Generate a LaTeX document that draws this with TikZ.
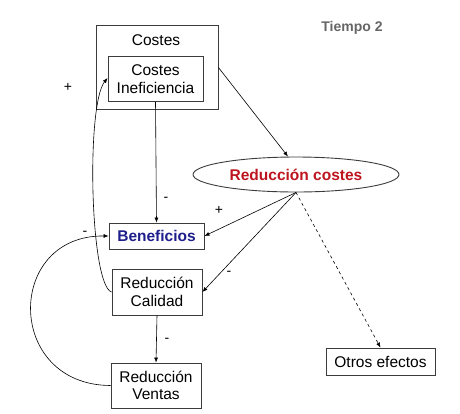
\documentclass[tikz,border=0pt]{standalone}
\usepackage{fontspec}
\setmainfont{Liberation Sans}
\usetikzlibrary{arrows.meta,shapes.geometric}
\definecolor{benefblue}{RGB}{30,30,140}
\definecolor{redcost}{RGB}{190,20,30}
\definecolor{boxgray}{RGB}{60,60,60}
\begin{document}
\begin{tikzpicture}[x=1pt,y=-1pt,
  box/.style={draw=boxgray,line width=0.9pt,rectangle,inner sep=0pt,align=center,font=\fontsize{15.5}{17.5}\selectfont},
  conn/.style={-{Latex[length=5pt,width=4pt]},line width=0.6pt},
  sign/.style={font=\fontsize{14}{16}\selectfont,inner sep=0pt}]
\useasboundingbox (0,0) rectangle (460,413);
\fill[white] (0,0) rectangle (460,413);
\node[box,minimum width=122pt,minimum height=84pt] (outer) at (157,67.5) {};
\node[font=\fontsize{15.5}{17.5}\selectfont,inner sep=0pt] (costesT) at (156,40) {Costes};
\node[box,minimum width=95pt,minimum height=45pt] (inner) at (155.5,79) {Costes\\Ineficiencia};
\node[box,minimum width=95pt,minimum height=26pt,text=benefblue,font=\fontsize{15.5}{17.5}\selectfont\bfseries] (benef) at (156.5,236) {Beneficios};
\node[box,minimum width=90pt,minimum height=46pt] (cal) at (157,292) {Reducción\\Calidad};
\node[box,minimum width=90pt,minimum height=45pt] (ventas) at (156,385.5) {Reducción\\Ventas};
\node[box,minimum width=109pt,minimum height=27pt] (otros) at (380.5,361.5) {Otros efectos};
\node[draw=boxgray,line width=0.9pt,ellipse,minimum width=206pt,minimum height=35pt,inner sep=0pt,text=redcost,font=\fontsize{15.5}{17.5}\selectfont\bfseries] (ell) at (296,174.5) {Reducción costes};
\node[text=black!60,font=\fontsize{14}{16}\selectfont\bfseries,inner sep=0pt] (tiempo) at (352,28) {Tiempo 2};
% connectors
\draw[conn] (outer.east) -- ([xshift=-8pt]ell.north);
\draw[conn] (ell.south) -- (benef.east);
\draw[conn] (ell.south) -- (cal.east);
\draw[conn,dashed] (ell.south) -- (otros.north);
\draw[conn] (inner.south) -- (benef.north);
\draw[conn] (cal.south) -- (ventas.north);
\draw[conn] (cal.west) .. controls (90,285) and (86,105) .. ([yshift=1pt]inner.west);
\draw[conn] (ventas.west) .. controls (5,385) and (5,235) .. (benef.west);
% signs
\node[sign] (s1) at (68,87) {+};
\node[sign] (s2) at (166,199) {-};
\node[sign] (s3) at (219,210) {+};
\node[sign] (s4) at (85,233) {-};
\node[sign] (s5) at (229,273) {-};
\node[sign] (s6) at (167,340) {-};
\end{tikzpicture}
\end{document}
